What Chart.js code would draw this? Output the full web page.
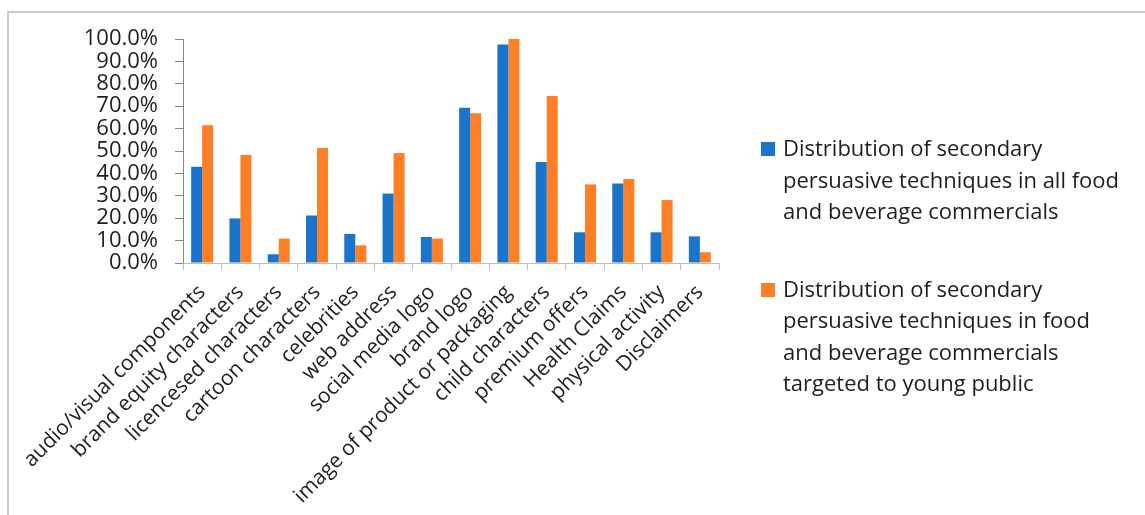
<!DOCTYPE html>
<html>
<head>
<meta charset="utf-8">
<script src="https://cdn.jsdelivr.net/npm/chart.js@4.4.1/dist/chart.umd.min.js"></script>
<style>
    body { margin: 0; background: #fff; }
    #wrap { position: relative; width: 1145px; height: 515px; overflow: hidden; }
    #frame {
        position: absolute; left: 7px; top: 11px; right: 0; bottom: 0;
        border-top: 2px solid #cacaca; border-left: 2px solid #cacaca;
    }
    #chart { position: absolute; left: 0; top: 0; }
    #legend {
        position: absolute; left: 761px; top: 132px;
        font-family: 'Open Sans', sans-serif; font-size: 22px; line-height: 31.5px;
        color: #1e1e1e;
    }
    .item { position: relative; padding-left: 22px; width: 345px; margin-bottom: 46px; }
    .box { position: absolute; left: 0; top: 10px; width: 14px; height: 14px; }
</style>
</head>
<body>
<div id="wrap">
    <div id="frame"></div>
    <canvas id="chart" width="1145" height="515"></canvas>
    <div id="legend"></div>
</div>
<script>
// Chart data
const categories = [
    'audio/visual components', 'brand equity characters', 'licencesed characters',
    'cartoon characters', 'celebrities', 'web address', 'social media logo',
    'brand logo', 'image of product or packaging', 'child characters',
    'premium offers', 'Health Claims', 'physical activity', 'Disclaimers'
];
const allFood = [43.0, 19.9, 3.9, 21.2, 13.0, 31.0, 11.6, 69.3, 97.5, 45.1, 13.7, 35.5, 13.7, 11.9];
const youngPublic = [61.5, 48.2, 10.9, 51.3, 7.9, 49.1, 10.9, 66.9, 100.0, 74.6, 35.1, 37.5, 28.1, 4.8];
const seriesLabels = [
    'Distribution of secondary persuasive techniques in all food and beverage commercials',
    'Distribution of secondary persuasive techniques in food and beverage commercials targeted to young public'
];
const seriesColors = ['#1a74cc', '#ff7f27'];

const ctx = document.getElementById('chart').getContext('2d');
const chart = new Chart(ctx, {
    type: 'bar',
    data: {
        labels: categories,
        datasets: [
            { label: seriesLabels[0], data: allFood, backgroundColor: seriesColors[0] },
            { label: seriesLabels[1], data: youngPublic, backgroundColor: seriesColors[1] }
        ]
    },
    options: {
        responsive: false,
        animation: false,
        devicePixelRatio: 1,
        categoryPercentage: 0.575,
        barPercentage: 1.0,
        layout: { padding: { top: 39, right: 426, left: 0, bottom: 0 } },
        plugins: { legend: { display: false }, tooltip: { enabled: false } },
        scales: {
            y: {
                min: 0,
                max: 100,
                afterFit: (scale) => { scale.width = 183; },
                border: { display: true, color: '#868686' },
                grid: { drawOnChartArea: false, color: '#868686', tickLength: 8 },
                ticks: {
                    stepSize: 10,
                    autoSkip: false,
                    padding: 17,
                    color: '#1e1e1e',
                    font: { family: 'Open Sans', size: 22, lineHeight: 1 },
                    callback: (v) => v.toFixed(1) + '%'
                }
            },
            x: {
                afterFit: (scale) => { scale.height = 515 - 263; },
                border: { display: true, color: '#bdbdbd' },
                grid: { drawOnChartArea: false, color: '#bdbdbd', tickLength: 7, offset: true },
                ticks: {
                    autoSkip: false,
                    minRotation: 45,
                    maxRotation: 45,
                    padding: 10,
                    color: '#1e1e1e',
                    font: { family: 'Open Sans', size: 21 }
                }
            }
        }
    }
});

// HTML legend so the long labels can wrap
const legend = document.getElementById('legend');
chart.data.datasets.forEach((ds) => {
    const item = document.createElement('div');
    item.className = 'item';
    const box = document.createElement('span');
    box.className = 'box';
    box.style.background = ds.backgroundColor;
    item.appendChild(box);
    item.appendChild(document.createTextNode(ds.label));
    legend.appendChild(item);
});
</script>
</body>
</html>
